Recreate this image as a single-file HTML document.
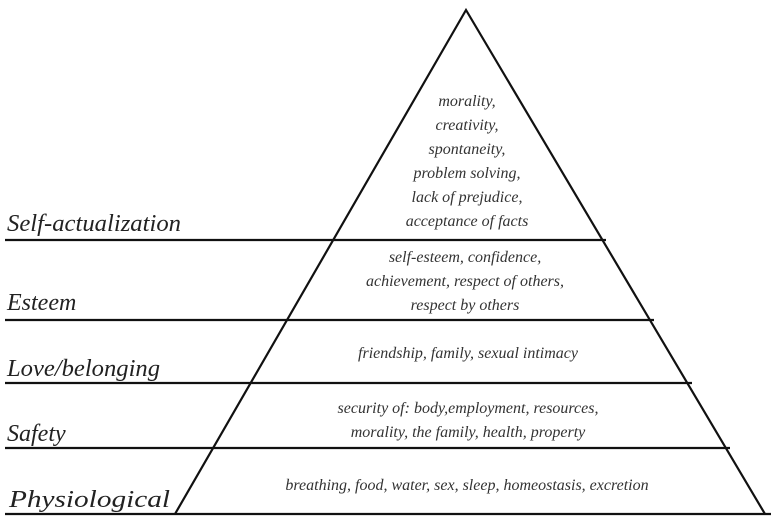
<!DOCTYPE html>
<html><head><style>
html,body{margin:0;padding:0;background:#fff;}
svg{display:block;}
</style></head><body>
<svg width="771" height="516" viewBox="0 0 771 516" font-family="'Liberation Serif', 'Times New Roman', Times, serif" font-style="italic">
<g stroke="#111" stroke-width="2.2" fill="none">
<polyline points="175,514 466,10 765,514"/>
<line x1="5" y1="240" x2="606" y2="240"/>
<line x1="5" y1="320" x2="654" y2="320"/>
<line x1="5" y1="383" x2="692" y2="383"/>
<line x1="5" y1="448" x2="730" y2="448"/>
<line x1="5" y1="514" x2="771" y2="514"/>
</g>
<g fill="#222" font-size="24">
<text x="7" y="231" textLength="174" lengthAdjust="spacingAndGlyphs">Self-actualization</text>
<text x="7" y="310">Esteem</text>
<text x="7" y="376" textLength="153" lengthAdjust="spacingAndGlyphs">Love/belonging</text>
<text x="7" y="441">Safety</text>
<text x="9" y="507" textLength="161" lengthAdjust="spacingAndGlyphs">Physiological</text>
</g>
<g fill="#333" font-size="16" text-anchor="middle">
<text x="467" y="106">morality,</text>
<text x="467" y="130">creativity,</text>
<text x="467" y="154">spontaneity,</text>
<text x="467" y="178">problem solving,</text>
<text x="467" y="202">lack of prejudice,</text>
<text x="467" y="226">acceptance of facts</text>
<text x="465" y="262">self-esteem, confidence,</text>
<text x="465" y="286">achievement, respect of others,</text>
<text x="465" y="310">respect by others</text>
<text x="468" y="358">friendship, family, sexual intimacy</text>
<text x="468" y="413">security of: body,employment, resources,</text>
<text x="468" y="437">morality, the family, health, property</text>
<text x="467" y="490">breathing, food, water, sex, sleep, homeostasis, excretion</text>
</g>
</svg>
</body></html>
